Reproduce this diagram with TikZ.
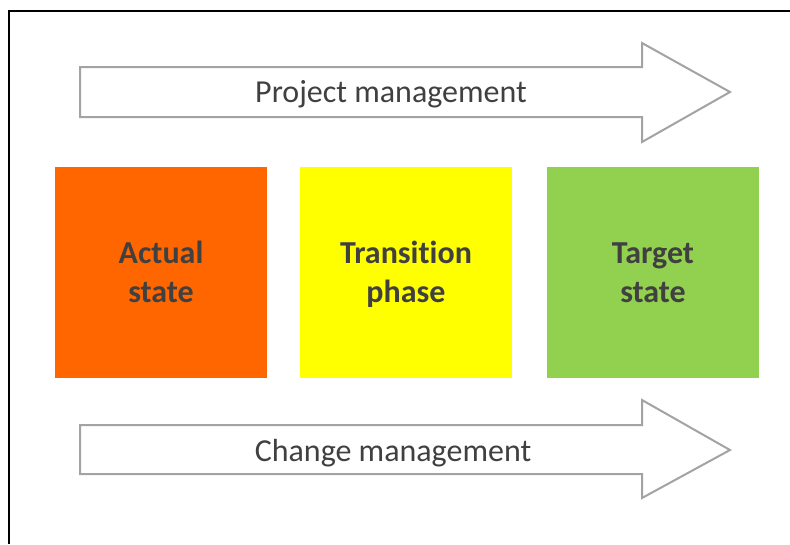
\documentclass[tikz,border=0pt]{standalone}
\usepackage{fontspec}
\setmainfont{Carlito}[Ligatures=NoCommon]
\usepackage{xcolor}
\usepackage{tikz}
\usetikzlibrary{positioning}

\definecolor{ink}{HTML}{404040}
\definecolor{rim}{HTML}{A3A3A3}
\definecolor{actualfill}{HTML}{FF6600}
\definecolor{transfill}{HTML}{FFFF00}
\definecolor{targetfill}{HTML}{92D050}

\tikzset{
  statebox/.style={rectangle,minimum width=212pt,minimum height=211pt,inner sep=0pt,
    align=center,text=ink,text height=59pt,text depth=0pt,
    font=\bfseries\fontsize{32}{39}\selectfont},
  armline/.style={draw=rim,line width=2pt,fill=white,line join=miter},
  armtext/.style={anchor=base,text=ink,font=\fontsize{32}{39}\selectfont,inner sep=0pt}
}

\begin{document}
\begin{tikzpicture}[x=1pt,y=-1pt]
\useasboundingbox (0,0) rectangle (790,544);
\fill[white] (0,0) rectangle (790,544);
\draw[line width=2pt] (9,544) -- (9,11) -- (790,11);

% upper arrow
\draw[armline] (80,67) -- (642,67) -- (642,43) -- (730,92) -- (642,142) -- (642,117) -- (80,117) -- cycle;
\node (pm) at (391,102) [armtext] {Project management};

% the three states
\node (actual) at (161,272.5) [statebox,fill=actualfill] {Actual\\state};
\node (trans) at (406,272.5) [statebox,fill=transfill] {Transition\\phase};
\node (target) at (653,272.5) [statebox,fill=targetfill] {Target\\state};

% lower arrow
\draw[armline] (80,425) -- (642,425) -- (642,400) -- (730,450) -- (642,498) -- (642,474) -- (80,474) -- cycle;
\node (cm) at (393,461) [armtext] {Change management};
\end{tikzpicture}
\end{document}
